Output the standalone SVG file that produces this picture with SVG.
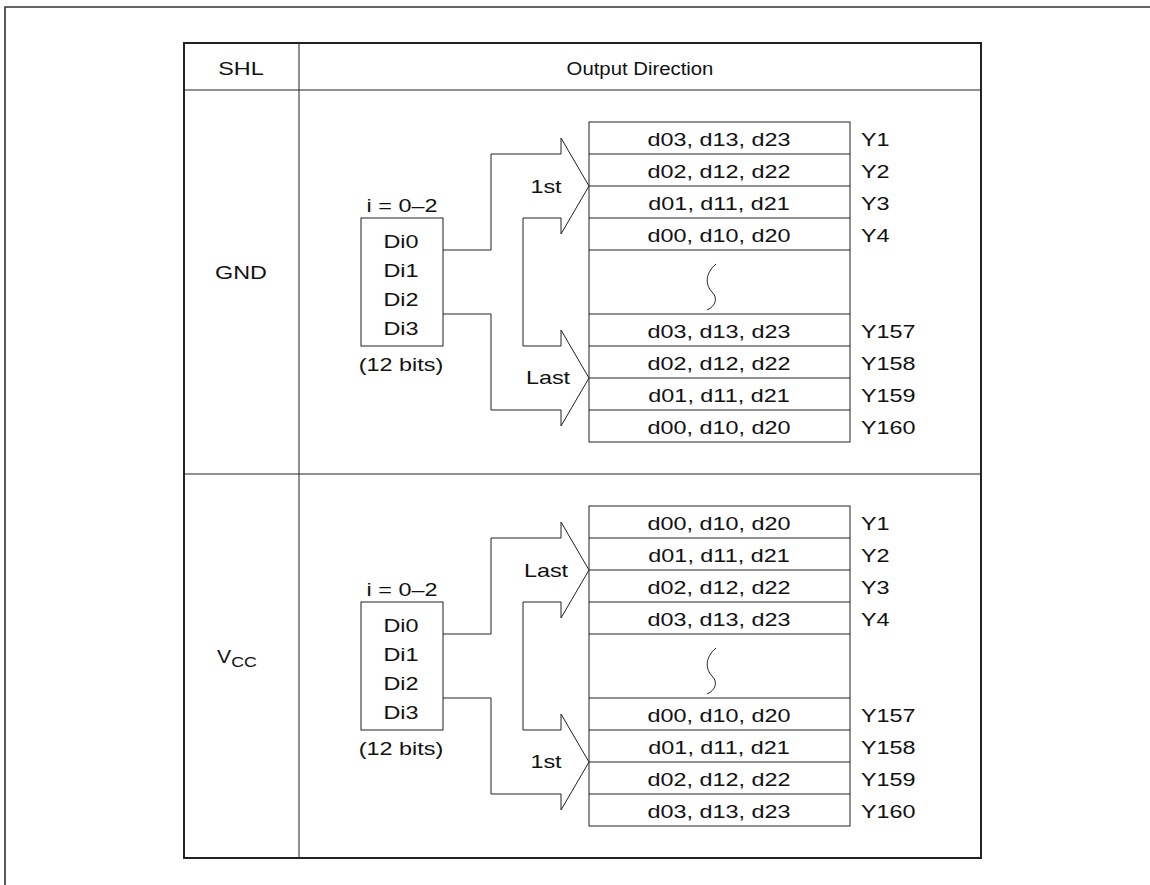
<svg xmlns="http://www.w3.org/2000/svg" width="1150" height="885" viewBox="0 0 1150 885">
<style>
.t{font-family:"Liberation Sans",Arial,sans-serif;font-size:18px;fill:#111}
.m{text-anchor:middle}
.ln{fill:none;stroke:#222;stroke-width:1}
.bd{fill:none;stroke:#222;stroke-width:2}
.box{fill:#fff;stroke:#222;stroke-width:1}
</style>
<defs>
<g id="rowsBox">
<rect x="589" y="122" width="261" height="320" class="box"/>
<path class="ln" d="M589,154H850M589,186H850M589,218H850M589,250H850M589,314H850M589,346H850M589,378H850M589,410H850"/>
<path class="ln" d="M716,264C704,274 706,286 712,292C718,298 716,306 707,310"/>
</g>
<path id="fatArrows" class="ln" d="M443,250H491V154H561V138L589,186L561,234V218H523V346H561V330L589,378L561,426V410H491V314H443"/>
</defs>

<path d="M5,885V7H1150" fill="none" stroke="#333" stroke-width="1.6"/>

<g id="table">
<rect x="184" y="43" width="797" height="815" class="bd"/>
<path class="ln" d="M299,43V858M184,90H981M184,474H981"/>
<text class="t m" transform="translate(241 75) scale(1.3 1)">SHL</text>
<text class="t m" transform="translate(640 75) scale(1.13 1)">Output Direction</text>
</g>

<g id="label-gnd">
<text class="t m" transform="translate(241 279) scale(1.3 1)">GND</text>
</g>
<g id="label-vcc">
<text class="t" transform="translate(217 663) scale(1.18 1)" font-size="20">V<tspan font-size="15" dy="4">CC</tspan></text>
</g>

<g id="connectors">
<use href="#fatArrows"/>
<use href="#fatArrows" transform="translate(0 384)"/>
</g>

<g id="gnd-input">
<text class="t m" transform="translate(402 212) scale(1.3 1)">i = 0–2</text>
<rect x="361" y="218" width="82" height="128" class="box"/>
<text class="t m" transform="translate(401 248) scale(1.3 1)">Di0</text>
<text class="t m" transform="translate(401 277) scale(1.3 1)">Di1</text>
<text class="t m" transform="translate(401 306) scale(1.3 1)">Di2</text>
<text class="t m" transform="translate(401 335) scale(1.3 1)">Di3</text>
<text class="t m" transform="translate(401 371) scale(1.3 1)">(12 bits)</text>
</g>
<g id="gnd-labels">
<text class="t m" transform="translate(546 193) scale(1.3 1)">1st</text>
<text class="t m" transform="translate(548 384) scale(1.3 1)">Last</text>
</g>
<g id="gnd-output">
<use href="#rowsBox"/>
<text class="t m" transform="translate(719 146) scale(1.3 1)">d03, d13, d23</text>
<text class="t m" transform="translate(719 178) scale(1.3 1)">d02, d12, d22</text>
<text class="t m" transform="translate(719 210) scale(1.3 1)">d01, d11, d21</text>
<text class="t m" transform="translate(719 242) scale(1.3 1)">d00, d10, d20</text>
<text class="t m" transform="translate(719 338) scale(1.3 1)">d03, d13, d23</text>
<text class="t m" transform="translate(719 370) scale(1.3 1)">d02, d12, d22</text>
<text class="t m" transform="translate(719 402) scale(1.3 1)">d01, d11, d21</text>
<text class="t m" transform="translate(719 434) scale(1.3 1)">d00, d10, d20</text>
<text class="t" transform="translate(861 146) scale(1.3 1)">Y1</text>
<text class="t" transform="translate(861 178) scale(1.3 1)">Y2</text>
<text class="t" transform="translate(861 210) scale(1.3 1)">Y3</text>
<text class="t" transform="translate(861 242) scale(1.3 1)">Y4</text>
<text class="t" transform="translate(861 338) scale(1.3 1)">Y157</text>
<text class="t" transform="translate(861 370) scale(1.3 1)">Y158</text>
<text class="t" transform="translate(861 402) scale(1.3 1)">Y159</text>
<text class="t" transform="translate(861 434) scale(1.3 1)">Y160</text>
</g>

<g id="vcc-input">
<text class="t m" transform="translate(402 596) scale(1.3 1)">i = 0–2</text>
<rect x="361" y="602" width="82" height="128" class="box"/>
<text class="t m" transform="translate(401 632) scale(1.3 1)">Di0</text>
<text class="t m" transform="translate(401 661) scale(1.3 1)">Di1</text>
<text class="t m" transform="translate(401 690) scale(1.3 1)">Di2</text>
<text class="t m" transform="translate(401 719) scale(1.3 1)">Di3</text>
<text class="t m" transform="translate(401 755) scale(1.3 1)">(12 bits)</text>
</g>
<g id="vcc-labels">
<text class="t m" transform="translate(546 577) scale(1.3 1)">Last</text>
<text class="t m" transform="translate(546 768) scale(1.3 1)">1st</text>
</g>
<g id="vcc-output">
<use href="#rowsBox" transform="translate(0 384)"/>
<text class="t m" transform="translate(719 530) scale(1.3 1)">d00, d10, d20</text>
<text class="t m" transform="translate(719 562) scale(1.3 1)">d01, d11, d21</text>
<text class="t m" transform="translate(719 594) scale(1.3 1)">d02, d12, d22</text>
<text class="t m" transform="translate(719 626) scale(1.3 1)">d03, d13, d23</text>
<text class="t m" transform="translate(719 722) scale(1.3 1)">d00, d10, d20</text>
<text class="t m" transform="translate(719 754) scale(1.3 1)">d01, d11, d21</text>
<text class="t m" transform="translate(719 786) scale(1.3 1)">d02, d12, d22</text>
<text class="t m" transform="translate(719 818) scale(1.3 1)">d03, d13, d23</text>
<text class="t" transform="translate(861 530) scale(1.3 1)">Y1</text>
<text class="t" transform="translate(861 562) scale(1.3 1)">Y2</text>
<text class="t" transform="translate(861 594) scale(1.3 1)">Y3</text>
<text class="t" transform="translate(861 626) scale(1.3 1)">Y4</text>
<text class="t" transform="translate(861 722) scale(1.3 1)">Y157</text>
<text class="t" transform="translate(861 754) scale(1.3 1)">Y158</text>
<text class="t" transform="translate(861 786) scale(1.3 1)">Y159</text>
<text class="t" transform="translate(861 818) scale(1.3 1)">Y160</text>
</g>
</svg>
